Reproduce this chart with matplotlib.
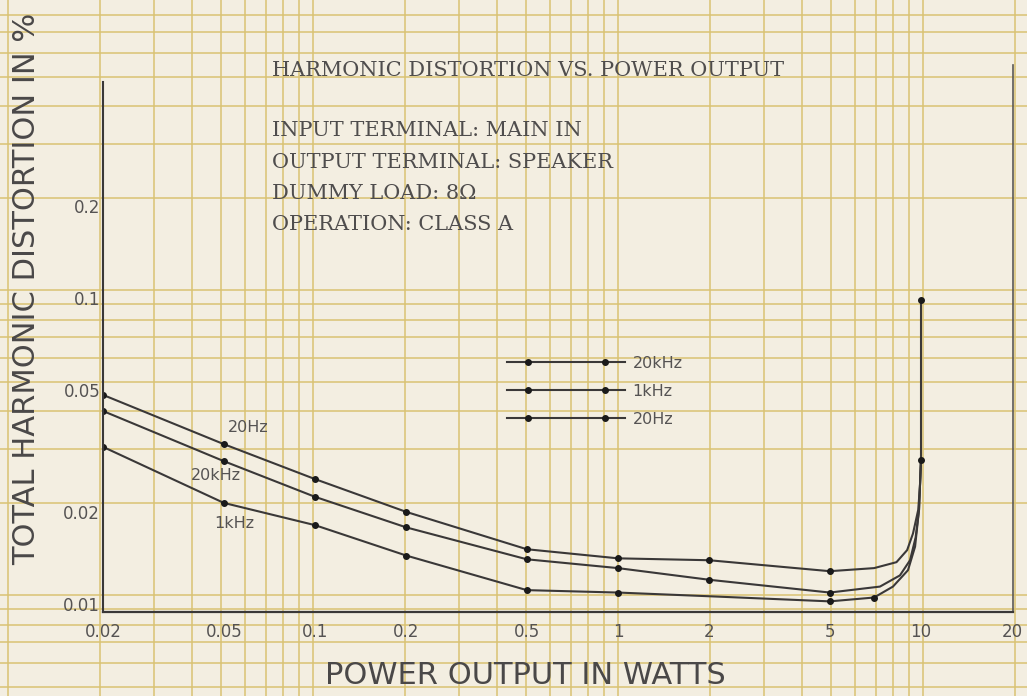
import numpy as np
import matplotlib
matplotlib.use("Agg")
import matplotlib.pyplot as plt
from matplotlib.legend_handler import HandlerLine2D
from matplotlib.lines import Line2D

# ---------------- data ----------------
x_ticks = [0.02, 0.05, 0.1, 0.2, 0.5, 1, 2, 5, 10, 20]
x_ticklabels = ["0.02", "0.05", "0.1", "0.2", "0.5", "1", "2", "5", "10", "20"]
y_ticks = [0.01, 0.02, 0.05, 0.1, 0.2]
y_ticklabels = ["0.01", "0.02", "0.05", "0.1", "0.2"]

# 20 Hz
x_20hz = [0.02, 0.05, 0.1, 0.2, 0.5, 1, 2, 5, 7, 8.3, 9.0, 9.41, 9.79, 9.92, 10, 10]
y_20hz = [0.0482, 0.0333, 0.0256, 0.0200, 0.0151, 0.0141, 0.0139, 0.0128, 0.0131,
          0.0137, 0.0150, 0.0170, 0.0203, 0.0242, 0.0296, 0.0985]
mk_20hz = [0, 1, 2, 3, 4, 5, 6, 7, 14, 15]

# 1 kHz
x_1khz = [0.02, 0.05, 0.1, 0.2, 0.5, 1, 2, 5, 7, 8.08, 9.06, 9.56, 9.85, 10]
y_1khz = [0.0326, 0.0214, 0.0181, 0.0144, 0.0111, 0.0109, 0.0106, 0.0102, 0.0105,
          0.0114, 0.0129, 0.0154, 0.0203, 0.0296]
mk_1khz = [0, 1, 2, 3, 4, 5, 7, 8]

# 20 kHz
x_20khz = [0.02, 0.05, 0.1, 0.2, 0.5, 1, 2, 5, 7.32, 8.52, 9.2, 9.6, 9.85, 10]
y_20khz = [0.0427, 0.0293, 0.0224, 0.0178, 0.0140, 0.0131, 0.0120, 0.0109, 0.0114,
           0.0124, 0.0139, 0.0165, 0.0203, 0.0296]
mk_20khz = [0, 1, 2, 3, 4, 5, 6, 7]

title = "HARMONIC DISTORTION VS. POWER OUTPUT"
info_lines = ["INPUT TERMINAL: MAIN IN", "OUTPUT TERMINAL: SPEAKER",
              "DUMMY LOAD: 8\u03a9", "OPERATION: CLASS A"]

# ---------------- style ----------------
W, H = 1027, 696
paper = "#f3eee1"
gridc = "#d9c273"
ink = "#3a3838"
txt = "#555353"

fig = plt.figure(figsize=(W / 100, H / 100), dpi=100)
fig.patch.set_facecolor(paper)

# graph-paper background (gold ink, slightly misregistered vs black ink)
bg = fig.add_axes([0, 0, 1, 1], zorder=0)
bg.set_xscale("log"); bg.set_yscale("log")
grid_vals = [k * 10.0 ** e for e in range(-3, 2) for k in range(1, 10)]
bg.set_xticks(grid_vals); bg.set_yticks(grid_vals)
bg.minorticks_off()
bg.set_xlim(10 ** (-618 / 305), 10 ** ((W - 618) / 305))
bg.set_ylim(10 ** (-1 - (H - 290) / 305), 10 ** (-1 + 290 / 305))
bg.grid(True, color=gridc, lw=1.1)
bg.tick_params(length=0, labelbottom=False, labelleft=False)
for s in bg.spines.values():
    s.set_visible(False)
bg.set_facecolor(paper)

# main plot axes
L, R, B, T = 103, 1013, 612, 65
ax = fig.add_axes([L / W, (H - B) / H, (R - L) / W, (B - T) / H], zorder=1)
ax.set_facecolor("none")
ax.set_xscale("log"); ax.set_yscale("log")
ax.set_xticks(x_ticks); ax.set_xticklabels(x_ticklabels)
ax.set_yticks(y_ticks); ax.set_yticklabels(y_ticklabels)
ax.minorticks_off()
ax.set_xlim(10 ** ((L - 618) / 303), 10 ** ((R - 618) / 303))
ax.set_ylim(10 ** (-2 - (B - 604) / 306), 10 ** (-2 + (604 - T) / 306))
ax.tick_params(length=0, labelsize=12, colors=txt)
ax.tick_params(axis="x", pad=8)
ax.tick_params(axis="y", pad=2)
ax.spines["top"].set_visible(False)
for k in ["left", "bottom", "right"]:
    ax.spines[k].set_color(ink)
ax.spines["left"].set_linewidth(1.5)
ax.spines["bottom"].set_linewidth(1.6)
ax.spines["right"].set_linewidth(1.2)
ax.spines["right"].set_color("#5a5858")
ax.spines["left"].set_bounds(ax.get_ylim()[0], 10 ** (-2 + (604 - 82) / 306))

lkw = dict(color=ink, lw=1.5, marker="o", ms=4, mfc="#1a1a1a", mec="#1a1a1a")
l20k, = ax.plot(x_20khz, y_20khz, markevery=mk_20khz, label="20kHz", **lkw)
l1k, = ax.plot(x_1khz, y_1khz, markevery=mk_1khz, label="1kHz", **lkw)
l20, = ax.plot(x_20hz, y_20hz, markevery=mk_20hz, label="20Hz", **lkw)

# curve labels
for s, (px, py) in {"20Hz": (248, 428), "20kHz": (216, 476), "1kHz": (234, 524)}.items():
    ax.annotate(s, (px, H - py), xycoords="figure pixels", ha="center", va="center",
                fontsize=11.5, color=txt)


class TwoDotHandler(HandlerLine2D):
    """Legend key: a line with two dots set in from its ends."""
    def create_artists(self, legend, orig_handle, xdescent, ydescent, width, height,
                       fontsize, trans):
        x0 = -xdescent
        xdata = np.array([x0, x0 + 0.18 * width, x0 + 0.83 * width, x0 + width])
        ydata = np.full_like(xdata, (height - ydescent) / 2)
        legline = Line2D(xdata, ydata)
        self.update_prop(legline, orig_handle, legend)
        legline.set_markevery([1, 2])
        legline.set_transform(trans)
        return [legline]


hm = {l20k: TwoDotHandler(), l1k: TwoDotHandler(), l20: TwoDotHandler()}
leg = ax.legend(handles=[l20k, l1k, l20], loc="upper left",
                bbox_to_anchor=(507 / W, 1 - 356 / H), bbox_transform=fig.transFigure,
                frameon=False, fontsize=11.5, handlelength=7.4, handletextpad=0.45,
                labelspacing=0.8, borderpad=0, borderaxespad=0, handler_map=hm)
for t in leg.get_texts():
    t.set_color(txt)

# axis labels
ax.set_xlabel("POWER OUTPUT IN WATTS", fontsize=22, color="#4a4848", va="center")
ax.xaxis.set_label_coords((525 - L) / (R - L), -(676 - B) / (B - T))
ax.set_ylabel("TOTAL HARMONIC DISTORTION IN %", fontsize=22, color="#4a4848", va="center")
ax.yaxis.set_label_coords((27 - L) / (R - L), (B - 289) / (B - T))

# title / info block
sfont = dict(family="DejaVu Serif", color="#4f4d4d", fontsize=15, ha="left", va="center")
fig.text(272 / W, 1 - 70 / H, title, **sfont)
for i, line in enumerate(info_lines):
    fig.text(272 / W, 1 - (131 + 31 * i) / H, line, **sfont)

fig.savefig("out.png", dpi=100, facecolor=paper)
